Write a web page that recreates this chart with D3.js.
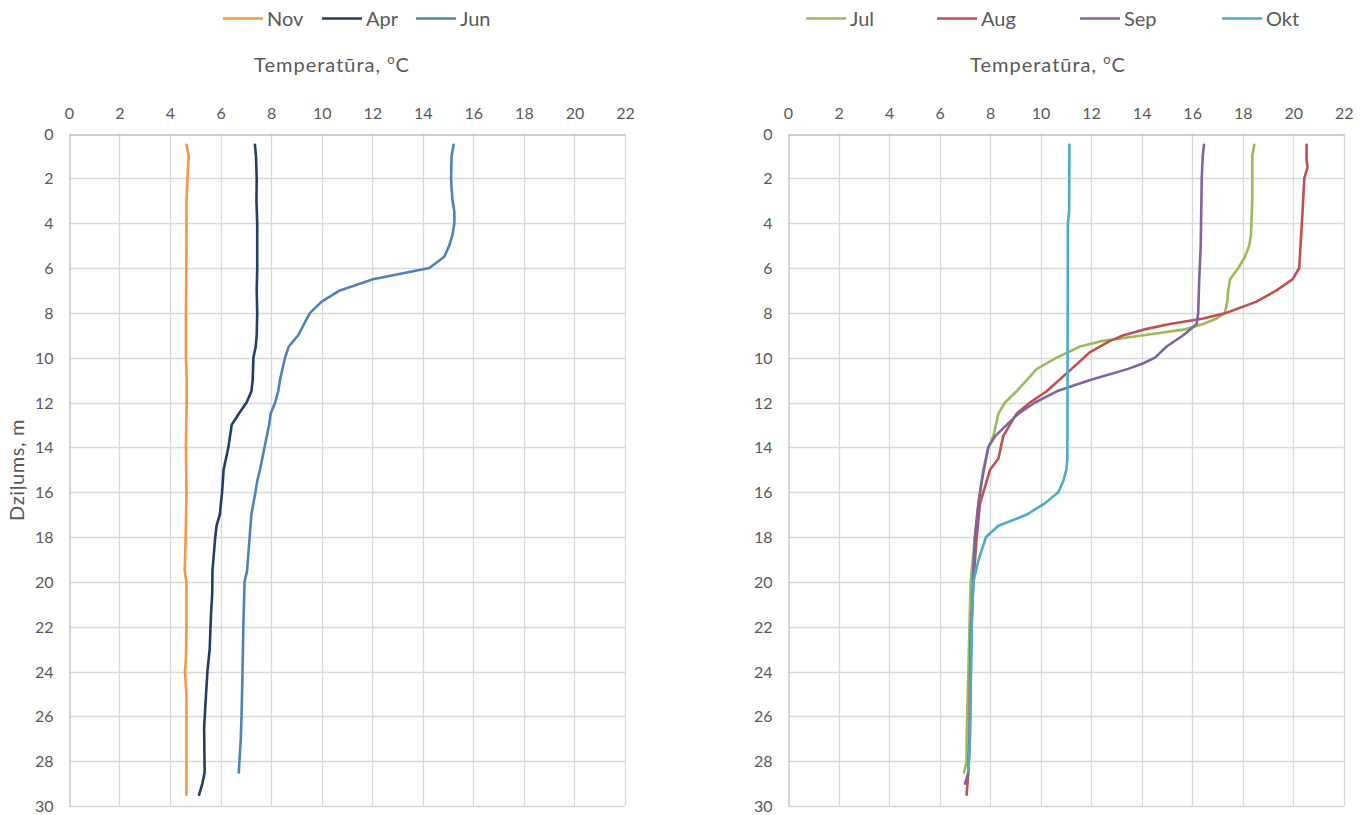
<!DOCTYPE html>
<html>
<head>
<meta charset="utf-8">
<script src="https://cdn.jsdelivr.net/npm/d3@7"></script>
<style>
  html, body { margin: 0; padding: 0; background: #fff; }
  svg { display: block; font-family: Lato, "Open Sans", sans-serif; }
</style>
</head>
<body>
<svg id="chart" width="1368" height="815"></svg>
<script>
// ---- Data (depth in m, temperature in °C) ----
const xTicks = [0, 2, 4, 6, 8, 10, 12, 14, 16, 18, 20, 22];
const yTicks = [0, 2, 4, 6, 8, 10, 12, 14, 16, 18, 20, 22, 24, 26, 28, 30];

const novDepth = [0.5, 1, 2, 3, 5, 8, 10, 11, 12, 13, 14, 16, 18, 19.5, 20, 22, 23.5, 24, 24.5, 25, 27, 29.5];
const novTemp  = [4.65, 4.74, 4.69, 4.65, 4.65, 4.63, 4.63, 4.66, 4.66, 4.64, 4.63, 4.65, 4.62, 4.58, 4.65, 4.65, 4.63, 4.59, 4.62, 4.65, 4.65, 4.65];

const aprDepth = [0.5, 1, 2, 3, 4, 6, 7, 8, 9, 9.5, 10, 11, 11.5, 12, 12.5, 13, 14, 15, 16, 17, 17.5, 18, 19.5, 20.5, 21.5, 23, 24, 25.5, 26.5, 28.5, 29, 29.5];
const aprTemp  = [7.36, 7.4, 7.43, 7.42, 7.45, 7.45, 7.43, 7.45, 7.43, 7.39, 7.3, 7.27, 7.22, 7.03, 6.72, 6.44, 6.31, 6.12, 6.06, 5.97, 5.84, 5.79, 5.68, 5.67, 5.62, 5.57, 5.48, 5.40, 5.35, 5.37, 5.28, 5.15];

const junDepth = [0.5, 1, 2, 2.5, 3, 3.5, 4, 4.5, 5, 5.5, 6, 6.5, 7, 7.5, 8, 8.5, 9, 9.5, 10, 11, 11.5, 12, 12.5, 13, 14, 15, 15.5, 16, 17, 18, 19.5, 20, 22, 24, 26, 27, 28.5];
const junTemp  = [15.22, 15.14, 15.12, 15.14, 15.18, 15.25, 15.25, 15.18, 15.05, 14.85, 14.26, 12.03, 10.72, 10.0, 9.54, 9.3, 9.07, 8.7, 8.55, 8.35, 8.28, 8.16, 7.98, 7.92, 7.74, 7.56, 7.45, 7.38, 7.22, 7.15, 7.05, 6.95, 6.9, 6.87, 6.83, 6.8, 6.72];

const julDepth = [0.5, 1, 3, 4.5, 5, 5.5, 6, 6.5, 7, 7.5, 8, 8.25, 8.5, 8.75, 9, 9.25, 9.5, 10, 10.5, 11.5, 12, 12.5, 13.5, 14, 15, 16.5, 18, 20, 24, 27, 28, 28.5];
const julTemp  = [18.46, 18.38, 18.38, 18.33, 18.26, 18.09, 17.83, 17.5, 17.43, 17.39, 17.3, 16.97, 16.44, 15.65, 14.07, 12.48, 11.56, 10.64, 9.85, 9.05, 8.59, 8.33, 8.13, 7.93, 7.73, 7.54, 7.4, 7.23, 7.14, 7.07, 7.07, 6.97];

const augDepth = [0.5, 1.2, 1.5, 2, 3.5, 5, 6, 6.5, 7, 7.5, 8, 8.25, 8.5, 8.75, 9, 9.25, 9.75, 10.5, 11.5, 12, 12.5, 13.5, 14.5, 15, 15.5, 16.5, 18, 20, 22.5, 27, 28.5, 29.5];
const augTemp  = [20.53, 20.53, 20.57, 20.44, 20.37, 20.29, 20.24, 19.98, 19.34, 18.55, 17.37, 16.44, 15.12, 14.07, 13.28, 12.75, 11.96, 11.23, 10.24, 9.58, 9.05, 8.52, 8.33, 8.0, 7.87, 7.6, 7.47, 7.34, 7.23, 7.18, 7.14, 7.07];

const sepDepth = [0.5, 1, 2, 5, 6.5, 8, 8.5, 9, 9.5, 10, 10.25, 10.5, 11, 11.5, 12, 12.5, 13, 13.5, 14, 14.75, 15.5, 16.5, 18, 19.5, 22, 27, 28.5, 29];
const sepTemp  = [16.47, 16.42, 16.38, 16.34, 16.28, 16.24, 16.18, 15.65, 14.99, 14.53, 14.07, 13.47, 11.96, 10.64, 9.78, 9.12, 8.66, 8.2, 7.93, 7.8, 7.67, 7.54, 7.4, 7.34, 7.27, 7.2, 7.14, 7.01];

const oktDepth = [0.5, 3.5, 4, 14.5, 15, 15.5, 16, 16.5, 17, 17.5, 18, 19, 20, 22, 25, 27, 28.5];
const oktTemp  = [11.14, 11.13, 11.08, 11.06, 11.02, 10.9, 10.7, 10.17, 9.45, 8.33, 7.84, 7.55, 7.34, 7.27, 7.22, 7.2, 7.14];

const leftSeries = [
  { name: "Nov", depth: novDepth, temp: novTemp, color: "#F79646" },
  { name: "Apr", depth: aprDepth, temp: aprTemp, color: "#1F3F68" },
  { name: "Jun", depth: junDepth, temp: junTemp, color: "#4F81BD" }
];
const rightSeries = [
  { name: "Jul", depth: julDepth, temp: julTemp, color: "#9BBB59" },
  { name: "Aug", depth: augDepth, temp: augTemp, color: "#C0504D" },
  { name: "Sep", depth: sepDepth, temp: sepTemp, color: "#8064A2" },
  { name: "Okt", depth: oktDepth, temp: oktTemp, color: "#4BACC6" }
];

const svg = d3.select("#chart");
const textColor = "#595959";

function drawPanel(opt) {
  const x = d3.scaleLinear().domain([0, 22]).range([opt.left, opt.right]);
  const y = d3.scaleLinear().domain([0, 30]).range([133.5, 806]);
  const g = svg.append("g");

  // grid
  g.append("g").selectAll("line.v").data(xTicks.slice(1)).join("line")
    .attr("x1", d => Math.round(x(d)) + 0.5).attr("x2", d => Math.round(x(d)) + 0.5)
    .attr("y1", y(0)).attr("y2", y(30))
    .attr("stroke", "#d9d9d9").attr("stroke-width", 1.3);
  g.append("g").selectAll("line.h").data(yTicks.slice(1)).join("line")
    .attr("x1", x(0)).attr("x2", x(22))
    .attr("y1", d => Math.round(y(d)) + 0.5).attr("y2", d => Math.round(y(d)) + 0.5)
    .attr("stroke", "#d9d9d9").attr("stroke-width", 1.3);

  // axes
  const ax = g.append("g").attr("transform", `translate(0,${Math.round(y(0)) + 0.5})`)
    .call(d3.axisTop(x).tickValues(xTicks).tickSize(0).tickPadding(16));
  const ay = g.append("g").attr("transform", `translate(${Math.round(x(0)) + 0.5},0)`)
    .call(d3.axisLeft(y).tickValues(yTicks).tickSize(0).tickPadding(16));
  [ax, ay].forEach(a => {
    a.select(".domain").attr("stroke", "#bfbfbf").attr("stroke-width", 1.3);
    a.selectAll("text").attr("fill", textColor).attr("font-size", 16)
      .attr("font-family", "Lato, sans-serif");
  });
  ay.selectAll("text").attr("dy", "0.35em");

  // x title
  const t = g.append("text").attr("x", opt.titleX).attr("y", 72)
    .attr("text-anchor", "middle").attr("fill", textColor).attr("font-size", 20)
    .attr("letter-spacing", 1);
  t.append("tspan").text("Temperatūra, ");
  t.append("tspan").text("o").attr("font-size", 13).attr("dy", -8);
  t.append("tspan").text("C").attr("dy", 8);

  if (opt.yTitle) {
    g.append("text").attr("transform", `translate(24,470) rotate(-90)`)
      .attr("text-anchor", "middle").attr("fill", textColor).attr("font-size", 20)
      .attr("letter-spacing", 0.6)
      .text("Dziļums, m");
  }

  // lines
  const line = d3.line().x(d => x(d.t)).y(d => y(d.d));
  opt.series.forEach(s => {
    const pts = s.depth.map((d, i) => ({ d: d, t: s.temp[i] }));
    g.append("path").datum(pts).attr("d", line)
      .attr("fill", "none").attr("stroke", s.color).attr("stroke-width", 2.6)
      .attr("stroke-linejoin", "round").attr("stroke-linecap", "round");
  });

  // legend
  opt.series.forEach((s, i) => {
    const lx = opt.legendX[i];
    g.append("line").attr("x1", lx).attr("x2", lx + 40).attr("y1", 18.5).attr("y2", 18.5)
      .attr("stroke", s.color).attr("stroke-width", 2.6);
    g.append("text").attr("x", lx + 44).attr("y", 25.5).attr("fill", textColor)
      .attr("font-size", 20).text(s.name);
  });
}

drawPanel({ left: 68.9, right: 625, series: leftSeries, titleX: 332, yTitle: true,
  legendX: [223, 322, 416] });
drawPanel({ left: 788, right: 1343.7, series: rightSeries, titleX: 1048, yTitle: false,
  legendX: [806, 937, 1080, 1222] });
</script>
</body>
</html>
